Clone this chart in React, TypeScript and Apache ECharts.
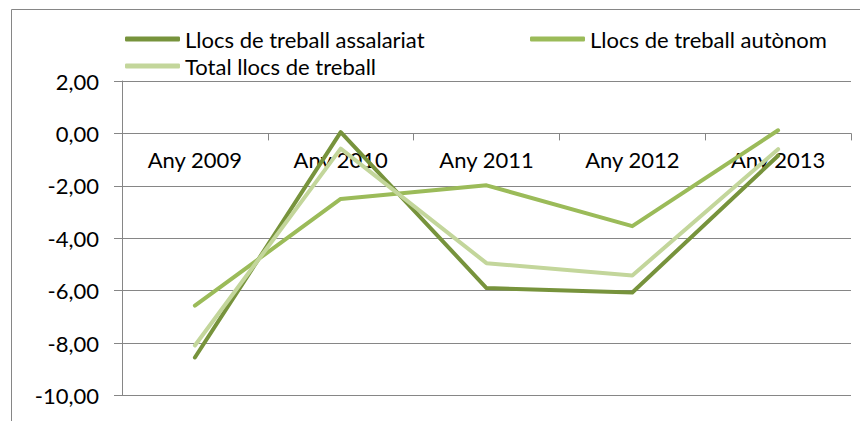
import React, { useEffect, useRef } from "react";
import * as echarts from "echarts";

const categories = ["Any 2009", "Any 2010", "Any 2011", "Any 2012", "Any 2013"];
const assalariat = [-8.55, 0.05, -5.9, -6.07, -0.85];
const autonom = [-6.57, -2.5, -1.98, -3.54, 0.12];
const total = [-8.09, -0.58, -4.95, -5.42, -0.6];
const seriesNames = ["Llocs de treball assalariat", "Llocs de treball autònom", "Total llocs de treball"];
const colors = ["#77933C", "#9BBB59", "#C3D69B"];
const yMin = -10;
const yMax = 2;
const yStep = 2;

const FONT = "Lato";
const FS = 22;

const CHART_W = 860;
const CHART_H = 413;
const GRID_TOP = 73;
const GRID_BOTTOM = 25.5;

export default function App() {
  const ref = useRef<HTMLDivElement>(null);
  useEffect(() => {
    if (!ref.current) return;
    const chart = echarts.init(ref.current, null, { renderer: "svg" });
    const legendBase = {
      orient: "horizontal",
      icon: "roundRect",
      itemWidth: 55,
      itemHeight: 5,
      textStyle: { fontFamily: FONT, fontSize: FS, color: "#000" },
      padding: 0,
    };
    const datas = [assalariat, autonom, total];
    const gridH = CHART_H - GRID_TOP - GRID_BOTTOM;
    const zeroFromTop = (yMax / (yMax - yMin)) * gridH;
    chart.setOption({
      animation: false,
      backgroundColor: "#fff",
      graphic: [
        {
          type: "rect",
          shape: { x: 3.5, y: 1.5, width: 900, height: 500 },
          style: { fill: "none", stroke: "#868686", lineWidth: 1 },
          silent: true,
        },
      ],
      legend: [
        { ...legendBase, left: 117, top: 20, data: [seriesNames[0]] },
        { ...legendBase, left: 522, top: 20, data: [seriesNames[1]] },
        { ...legendBase, left: 117, top: 47, data: [seriesNames[2]] },
      ],
      grid: {
        left: 114,
        right: 17,
        top: GRID_TOP,
        bottom: GRID_BOTTOM,
        containLabel: false,
        outerBoundsMode: "none",
      },
      xAxis: {
        type: "category",
        data: categories,
        boundaryGap: true,
        position: "top",
        offset: -zeroFromTop,
        axisLine: { show: true, onZero: false, lineStyle: { color: "#868686", width: 1 } },
        axisTick: { show: true, inside: true, length: 7, lineStyle: { color: "#868686" } },
        axisLabel: { inside: true, margin: 15, fontFamily: FONT, fontSize: FS, color: "#000" },
      },
      yAxis: {
        type: "value",
        min: yMin,
        max: yMax,
        interval: yStep,
        axisLine: { show: true, lineStyle: { color: "#868686", width: 1 } },
        axisTick: { show: true, length: 8, lineStyle: { color: "#868686" } },
        splitLine: { show: true, lineStyle: { color: "#868686", width: 1 } },
        axisLabel: {
          margin: 23,
          fontFamily: FONT,
          fontSize: FS,
          color: "#000",
          formatter: (v: number) => v.toFixed(2).replace(".", ","),
        },
      },
      series: datas.map((d, i) => ({
        name: seriesNames[i],
        type: "line",
        data: d,
        showSymbol: false,
        symbol: "none",
        color: colors[i],
        lineStyle: { color: colors[i], width: 4, cap: "round", join: "round" },
        z: 2 + i,
      })),
    });
    return () => chart.dispose();
  }, []);
  return <div ref={ref} style={{ width: CHART_W, height: CHART_H }} />;
}
